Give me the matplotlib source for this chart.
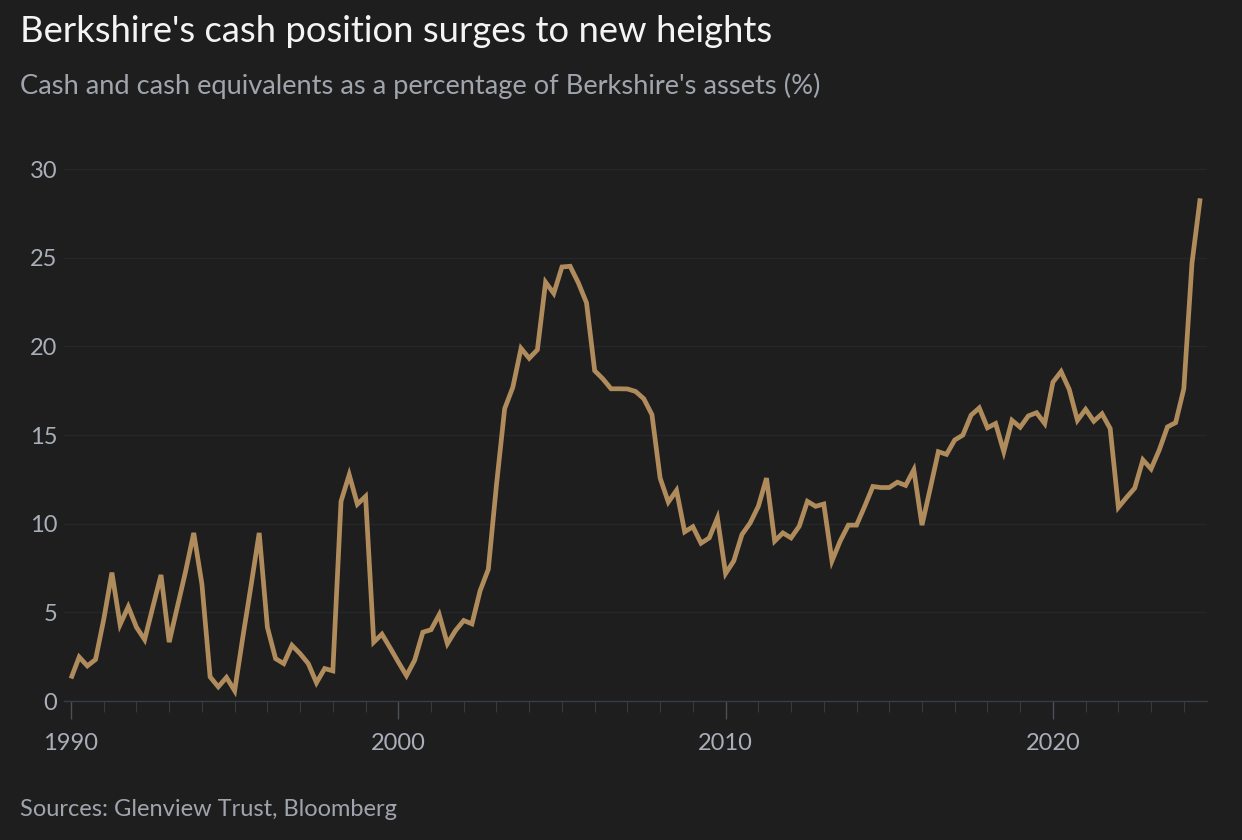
import matplotlib
matplotlib.use("Agg")
import matplotlib.pyplot as plt
import numpy as np

# ---- data (quarterly, starting Q1 1990) ----
start_year = 1990
quarter_step = 0.25
cash_pct = [
    1.27, 2.48, 1.98, 2.34, 4.6, 7.24, 4.31, 5.32, 4.16, 3.46,
    5.3, 7.11, 3.32, 5.3, 7.3, 9.48, 6.59, 1.36, 0.80, 1.33,
    0.58, 3.6, 6.5, 9.48, 4.16, 2.39, 2.11, 3.14, 2.67, 2.11,
    1.03, 1.83, 1.70, 11.26, 12.76, 11.10, 11.54, 3.32, 3.77, 3.0,
    2.2, 1.43, 2.3, 3.88, 4.02, 4.87, 3.23, 3.98, 4.54, 4.35,
    6.22, 7.43, 12.2, 16.49, 17.7, 19.89, 19.33, 19.81, 23.62, 22.99,
    24.48, 24.52, 23.59, 22.46, 18.63, 18.17, 17.61, 17.61, 17.6, 17.46,
    17.05, 16.15, 12.57, 11.22, 11.88, 9.54, 9.83, 8.9, 9.2, 10.32,
    7.19, 7.9, 9.39, 10.04, 10.98, 12.57, 9.02, 9.48, 9.2, 9.86,
    11.26, 10.98, 11.11, 7.9, 9.02, 9.92, 9.92, 10.98, 12.1, 12.04,
    12.04, 12.34, 12.16, 13.04, 9.92, 11.97, 14.06, 13.91, 14.72, 15.0,
    16.12, 16.53, 15.41, 15.65, 14.06, 15.83, 15.44, 16.08, 16.26, 15.65,
    17.98, 18.58, 17.57, 15.83, 16.45, 15.78, 16.2, 15.37, 10.92, 11.48,
    12.01, 13.6, 13.09, 14.16, 15.46, 15.70, 17.61, 24.71, 28.35,
]
x_ticks = [1990, 2000, 2010, 2020]
x_tick_labels = ["1990", "2000", "2010", "2020"]
minor_years = list(range(1990, 2025))
y_ticks = [0, 5, 10, 15, 20, 25, 30]
y_tick_labels = ["0", "5", "10", "15", "20", "25", "30"]

title = "Berkshire's cash position surges to new heights"
subtitle = "Cash and cash equivalents as a percentage of Berkshire's assets (%)"
source = "Sources: Glenview Trust, Bloomberg"

# ---- style ----
BG = "#1e1e1e"
LINE = "#b08c5d"
TITLE_C = "#f4f4f4"
SUB_C = "#a0a4ad"
TICK_C = "#a9aeb8"
GRID_C = "#25272c"
AXIS_C = "#363b45"
FONT = ["Lato", "DejaVu Sans"]
plt.rcParams["font.family"] = FONT

W, H = 1242, 840
fig = plt.figure(figsize=(W / 100, H / 100), dpi=100, facecolor=BG)

px_per_year = 32.73
x0_px, x1_px = 64, 1207
zero_px = 701
px_per_unit = 17.73
xlim = (1990 - (71 - x0_px) / px_per_year, 1990 + (x1_px - 71) / px_per_year)
ylim = (0, 30.5)
top_px = zero_px - ylim[1] * px_per_unit

ax = fig.add_axes([x0_px / W, 1 - zero_px / H, (x1_px - x0_px) / W, (zero_px - top_px) / H])
ax.set_facecolor(BG)

x = start_year + np.arange(len(cash_pct)) * quarter_step
ax.plot(x, cash_pct, color=LINE, lw=3.4, solid_joinstyle="miter", solid_capstyle="butt", zorder=3)

ax.set_xlim(*xlim)
ax.set_ylim(*ylim)

for s in ["top", "right", "left"]:
    ax.spines[s].set_visible(False)
ax.spines["bottom"].set_color(AXIS_C)
ax.spines["bottom"].set_linewidth(1.0)

ax.set_yticks(y_ticks)
ax.set_yticklabels(y_tick_labels)
ax.yaxis.grid(True, color=GRID_C, lw=0.9)
ax.set_axisbelow(True)
ax.tick_params(axis="y", length=0, pad=5, labelsize=17, labelcolor=TICK_C)

ax.set_xticks(x_ticks)
ax.set_xticklabels(x_tick_labels)
ax.set_xticks(minor_years, minor=True)
ax.tick_params(axis="x", which="major", length=13, width=1.0, color="#4a4f58",
               pad=10, labelsize=17, labelcolor=TICK_C)
ax.tick_params(axis="x", which="minor", length=8, width=0.8, color="#363a42")

fig.text(20 / W, 1 - 42 / H, title, color=TITLE_C, fontsize=26.2, va="baseline", ha="left")
fig.text(20 / W, 1 - 94 / H, subtitle, color=SUB_C, fontsize=19.6, va="baseline", ha="left")
fig.text(20 / W, 1 - 816 / H, source, color=SUB_C, fontsize=17, va="baseline", ha="left")

fig.savefig("out.png", dpi=100, facecolor=BG)
